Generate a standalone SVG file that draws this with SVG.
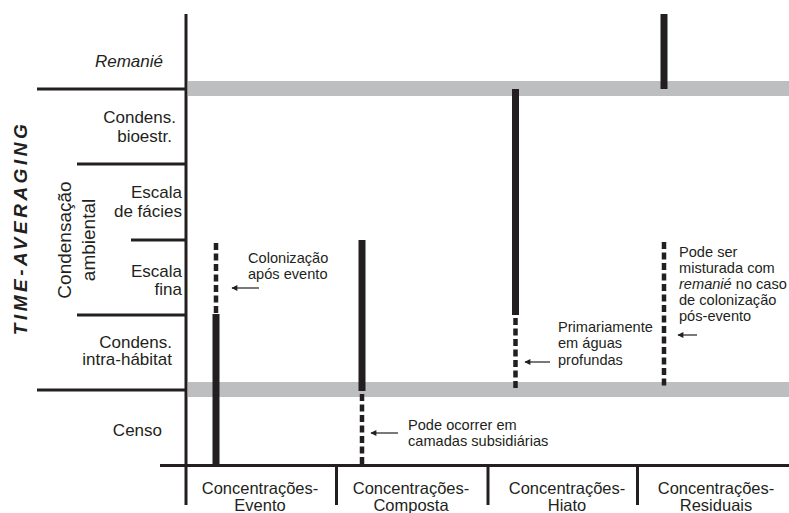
<svg xmlns="http://www.w3.org/2000/svg" width="789" height="513" viewBox="0 0 789 513">
<defs>
<marker id="ah" viewBox="0 0 10 10" refX="9" refY="5" markerWidth="8" markerHeight="6" markerUnits="userSpaceOnUse" orient="auto">
<path d="M0,0 L10,5 L0,10 z" fill="#231f20"/>
</marker>
<style>
text{font-family:"Liberation Sans",Arial,sans-serif;fill:#231f20}
.lbl{font-size:17px}
.col{font-size:16.5px}
.end{text-anchor:end}
.mid{text-anchor:middle}
.ann{font-size:14.6px}
.axis{stroke:#231f20;stroke-width:3;fill:none}
.band{fill:#bcbec0}
.solid{stroke:#231f20;stroke-width:7;fill:none}
.dash{stroke:#231f20;stroke-width:4.5;stroke-dasharray:7 3.5;fill:none}
.arr{stroke:#231f20;stroke-width:1.2;fill:none;marker-end:url(#ah)}
</style>
</defs>
<rect width="789" height="513" fill="#fff"/>

<g id="bands">
<rect class="band" x="188" y="81" width="601" height="15"/>
<rect class="band" x="188" y="382" width="601" height="15"/>
</g>

<g id="axes">
<line class="axis" x1="186" y1="14" x2="186" y2="505"/>
<line class="axis" x1="160" y1="465.5" x2="789" y2="465.5"/>
<line class="axis" x1="336.5" y1="465" x2="336.5" y2="505"/>
<line class="axis" x1="488" y1="465" x2="488" y2="505"/>
<line class="axis" x1="637.5" y1="465" x2="637.5" y2="505"/>
<line class="axis" x1="37" y1="89" x2="186" y2="89"/>
<line class="axis" x1="77" y1="164" x2="186" y2="164"/>
<line class="axis" x1="131" y1="240" x2="186" y2="240"/>
<line class="axis" x1="77" y1="315" x2="186" y2="315"/>
<line class="axis" x1="37" y1="390" x2="186" y2="390"/>
</g>

<g id="axis-title">
<text transform="translate(27,228) rotate(-90)" class="mid" style="font-size:19px;font-weight:bold;font-style:italic;letter-spacing:3.5px">TIME-AVERAGING</text>
<text transform="translate(71,240) rotate(-90)" class="mid" style="font-size:19px">Condensação</text>
<text transform="translate(95,240) rotate(-90)" class="mid" style="font-size:19px">ambiental</text>
</g>

<g id="row-remanie"><text class="lbl end" x="163" y="67" font-style="italic">Remanié</text></g>
<g id="row-bioestr">
<text class="lbl end" x="176" y="123">Condens.</text>
<text class="lbl end" x="172" y="141.5">bioestr.</text>
</g>
<g id="row-facies">
<text class="lbl end" x="182" y="198">Escala</text>
<text class="lbl end" x="182" y="216.5">de fácies</text>
</g>
<g id="row-fina">
<text class="lbl end" x="182" y="276.5">Escala</text>
<text class="lbl end" x="182" y="295">fina</text>
</g>
<g id="row-intra">
<text class="lbl end" x="172" y="347.5">Condens.</text>
<text class="lbl end" x="172" y="365">intra-hábitat</text>
</g>
<g id="row-censo"><text class="lbl end" x="162" y="435.5">Censo</text></g>

<g id="col-evento">
<text class="col mid" x="260" y="494">Concentrações-</text>
<text class="col mid" x="260" y="511">Evento</text>
</g>
<g id="col-composta">
<text class="col mid" x="411" y="494">Concentrações-</text>
<text class="col mid" x="411" y="511">Composta</text>
</g>
<g id="col-hiato">
<text class="col mid" x="567" y="494">Concentrações-</text>
<text class="col mid" x="567" y="511">Hiato</text>
</g>
<g id="col-residuais">
<text class="col mid" x="716" y="494">Concentrações-</text>
<text class="col mid" x="716" y="511">Residuais</text>
</g>

<g id="bar-evento">
<line class="dash" x1="216" y1="243" x2="216" y2="313"/>
<line class="solid" x1="216" y1="314" x2="216" y2="465"/>
</g>
<g id="bar-composta">
<line class="solid" x1="362" y1="240" x2="362" y2="391"/>
<line class="dash" x1="362" y1="394" x2="362" y2="465"/>
</g>
<g id="bar-hiato">
<line class="solid" x1="515.5" y1="89" x2="515.5" y2="315"/>
<line class="dash" x1="515.5" y1="318" x2="515.5" y2="390"/>
</g>
<g id="bar-residuais">
<line class="solid" x1="664" y1="14" x2="664" y2="89"/>
<line class="dash" x1="664" y1="242" x2="664" y2="388"/>
</g>

<g id="connectors">
<line class="arr" x1="259" y1="288" x2="232" y2="288"/>
<line class="arr" x1="398" y1="433" x2="371" y2="433"/>
<line class="arr" x1="550" y1="362" x2="525" y2="362"/>
<line class="arr" x1="697" y1="335" x2="678" y2="335"/>
</g>

<g id="note-colonizacao">
<text class="ann" x="248" y="263">Colonização</text>
<text class="ann" x="248" y="279">após evento</text>
</g>
<g id="note-subsidiarias">
<text class="ann" x="408" y="430">Pode ocorrer em</text>
<text class="ann" x="408" y="445.5">camadas subsidiárias</text>
</g>
<g id="note-profundas">
<text class="ann" x="558" y="331.5">Primariamente</text>
<text class="ann" x="558" y="348">em águas</text>
<text class="ann" x="558" y="364.5">profundas</text>
</g>
<g id="note-remanie">
<text class="ann" x="679" y="256.5">Pode ser</text>
<text class="ann" x="679" y="272.7">misturada com</text>
<text class="ann" x="679" y="289"><tspan font-style="italic">remanié</tspan> no caso</text>
<text class="ann" x="679" y="305">de colonização</text>
<text class="ann" x="679" y="321.2">pós-evento</text>
</g>
</svg>
